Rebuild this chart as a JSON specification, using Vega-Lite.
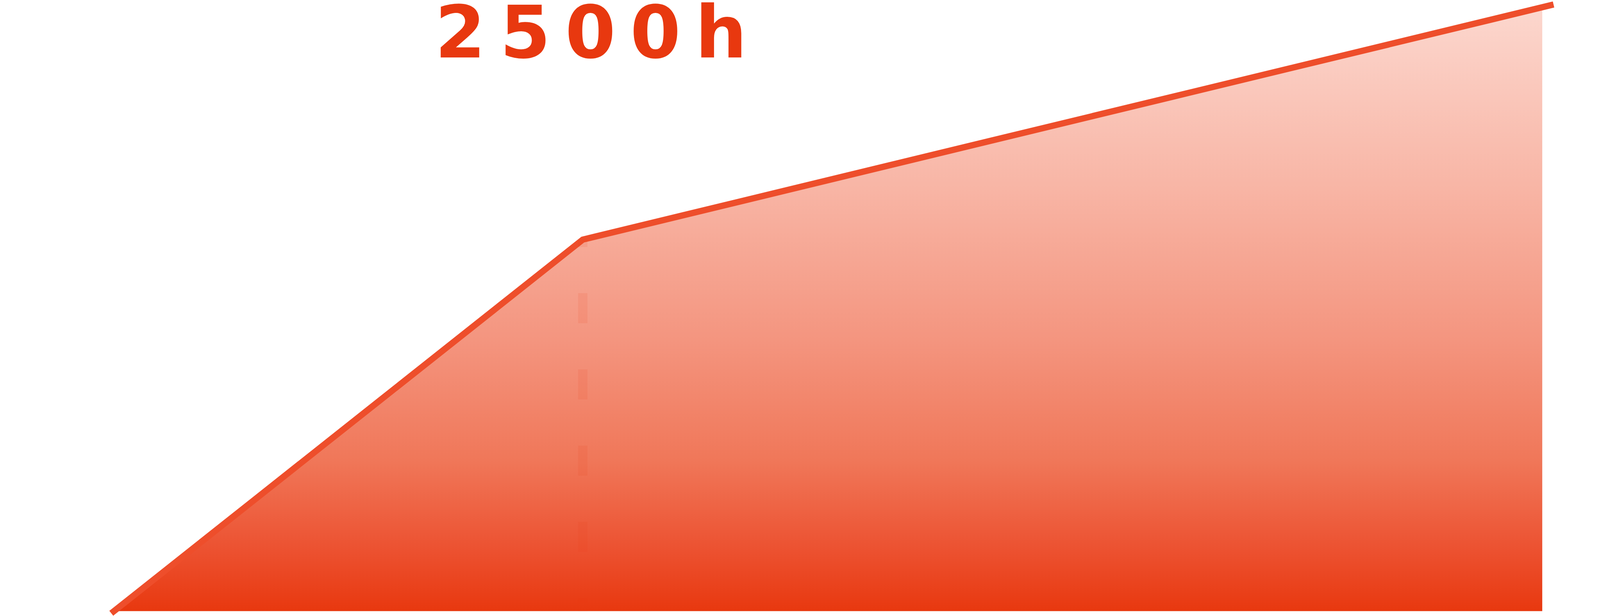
{
  "$schema": "https://vega.github.io/schema/vega-lite/v6.json",
  "width": 4620,
  "height": 1576,
  "autosize": {"type": "none"},
  "padding": 0,
  "background": "white",
  "config": {"view": {"stroke": null}},
  "datasets": {
    "area": [
      {"hours": 6, "value": 0},
      {"hours": 2500, "value": 61.4},
      {"hours": 7604, "value": 99.8}
    ],
    "line": [
      {"hours": -8, "value": -0.35},
      {"hours": 2500, "value": 61.4},
      {"hours": 7664, "value": 100.26}
    ],
    "label": [
      {"hours": 2500, "text": "2\u20095\u20090\u20090\u2009h"}
    ]
  },
  "layer": [
    {
      "data": {"name": "area"},
      "mark": {
        "type": "area",
        "interpolate": "linear",
        "color": {
          "gradient": "linear",
          "x1": 0, "y1": 0, "x2": 0, "y2": 1,
          "stops": [
            {"offset": 0, "color": "#fcd7ce"},
            {"offset": 0.3, "color": "#f8b5a5"},
            {"offset": 0.55, "color": "#f4957f"},
            {"offset": 0.75, "color": "#f07759"},
            {"offset": 0.9, "color": "#ec5130"},
            {"offset": 1, "color": "#e8380f"}
          ]
        }
      },
      "encoding": {
        "x": {"field": "hours", "type": "quantitative", "axis": null,
              "scale": {"domain": [-600, 9000], "nice": false, "zero": false}},
        "y": {"field": "value", "type": "quantitative", "axis": null,
              "scale": {"domain": [-0.8, 101], "nice": false, "zero": false}}
      }
    },
    {
      "data": {"name": "line"},
      "mark": {"type": "line", "color": "#ee4e2b", "strokeWidth": 16,
               "strokeCap": "butt", "strokeJoin": "miter", "interpolate": "linear"},
      "encoding": {
        "x": {"field": "hours", "type": "quantitative"},
        "y": {"field": "value", "type": "quantitative"}
      }
    },
    {
      "data": {"name": "label"},
      "mark": {"type": "rule", "color": "#e8380f", "opacity": 0.1,
               "strokeWidth": 24, "strokeDash": [77, 118], "strokeDashOffset": 58},
      "encoding": {
        "x": {"field": "hours", "type": "quantitative"},
        "y": {"datum": 61.4},
        "y2": {"datum": 0}
      }
    },
    {
      "data": {"name": "label"},
      "mark": {"type": "text", "font": "DejaVu Sans", "fontWeight": "bold",
               "fontSize": 186, "color": "#e8380f", "align": "center",
               "baseline": "alphabetic", "dx": 21},
      "encoding": {
        "x": {"field": "hours", "type": "quantitative"},
        "y": {"datum": 91.5},
        "text": {"field": "text"}
      }
    }
  ]
}
